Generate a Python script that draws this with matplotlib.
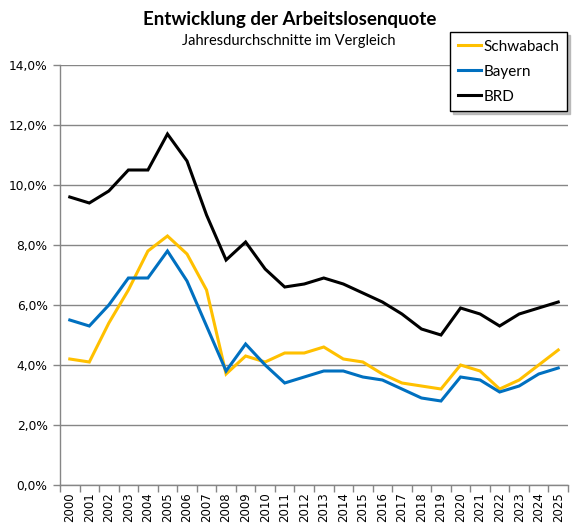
import matplotlib
matplotlib.use("Agg")
import matplotlib.pyplot as plt
import numpy as np

years = [str(y) for y in range(2000, 2026)]
schwabach = [4.2, 4.1, 5.4, 6.5, 7.8, 8.3, 7.7, 6.5, 3.7, 4.3, 4.1, 4.4, 4.4, 4.6, 4.2, 4.1,
             3.7, 3.4, 3.3, 3.2, 4.0, 3.8, 3.2, 3.5, 4.0, 4.5]
bayern = [5.5, 5.3, 6.0, 6.9, 6.9, 7.8, 6.8, 5.3, 3.8, 4.7, 4.0, 3.4, 3.6, 3.8, 3.8, 3.6,
          3.5, 3.2, 2.9, 2.8, 3.6, 3.5, 3.1, 3.3, 3.7, 3.9]
brd = [9.6, 9.4, 9.8, 10.5, 10.5, 11.7, 10.8, 9.0, 7.5, 8.1, 7.2, 6.6, 6.7, 6.9, 6.7, 6.4,
       6.1, 5.7, 5.2, 5.0, 5.9, 5.7, 5.3, 5.7, 5.9, 6.1]
series_names = ["Schwabach", "Bayern", "BRD"]
yticks = [0, 2, 4, 6, 8, 10, 12, 14]
ytick_labels = ["0,0%", "2,0%", "4,0%", "6,0%", "8,0%", "10,0%", "12,0%", "14,0%"]

plt.rcParams['font.family'] = ['Lato', 'DejaVu Sans']

W, H = 580, 531
fig = plt.figure(figsize=(W / 100, H / 100), dpi=100)
ax = fig.add_axes([60 / W, (H - 485) / H, (568 - 60) / W, (485 - 65) / H])

x = np.arange(len(years))
colors = ["#FFC000", "#0070C0", "#000000"]
for vals, name, c in zip([schwabach, bayern, brd], series_names, colors):
    ax.plot(x, vals, color=c, lw=2.2, label=name, solid_joinstyle='miter')

ax.set_xlim(-0.5, len(years) - 0.5)
ax.set_ylim(0, 14)
ax.set_yticks(yticks)
ax.set_yticklabels(ytick_labels, family='DejaVu Sans')
ax.set_xticks(x)
ax.set_xticklabels(years, rotation=90, family='DejaVu Sans')
ax.set_xticks(np.arange(-0.5, len(years)), minor=True)
ax.tick_params(axis='x', which='major', length=0, pad=5, labelsize=8.5, colors='black')
ax.tick_params(axis='x', which='minor', length=5, color='#868686', width=1)
ax.tick_params(axis='y', length=5, color='#868686', width=1, labelsize=8.8, pad=4)

ax.grid(axis='y', color='#868686', lw=1)
ax.set_axisbelow(True)
for s in ['top', 'right']:
    ax.spines[s].set_visible(False)
for s in ['left', 'bottom']:
    ax.spines[s].set_color('#868686')
    ax.spines[s].set_linewidth(1)

fig.text(290 / W, 1 - 20 / H, "Entwicklung der Arbeitslosenquote", ha='center', va='center',
         fontsize=13.5, fontweight='bold')
fig.text(289 / W, 1 - 41 / H, "Jahresdurchschnitte im Vergleich", ha='center', va='center',
         fontsize=10.5)

leg = fig.legend(loc='upper left', bbox_to_anchor=(450 / W, 1 - 32 / H), frameon=True,
                 fancybox=False, shadow={'ox': 2, 'oy': -2, 'color': '#b0b0b0', 'alpha': 0.8},
                 edgecolor='black', framealpha=1,
                 fontsize=11, handlelength=1.5, handletextpad=0.2, labelspacing=0.72,
                 borderpad=0.5, borderaxespad=0)
leg.get_frame().set_linewidth(1)

fig.savefig("out.png", dpi=100)
